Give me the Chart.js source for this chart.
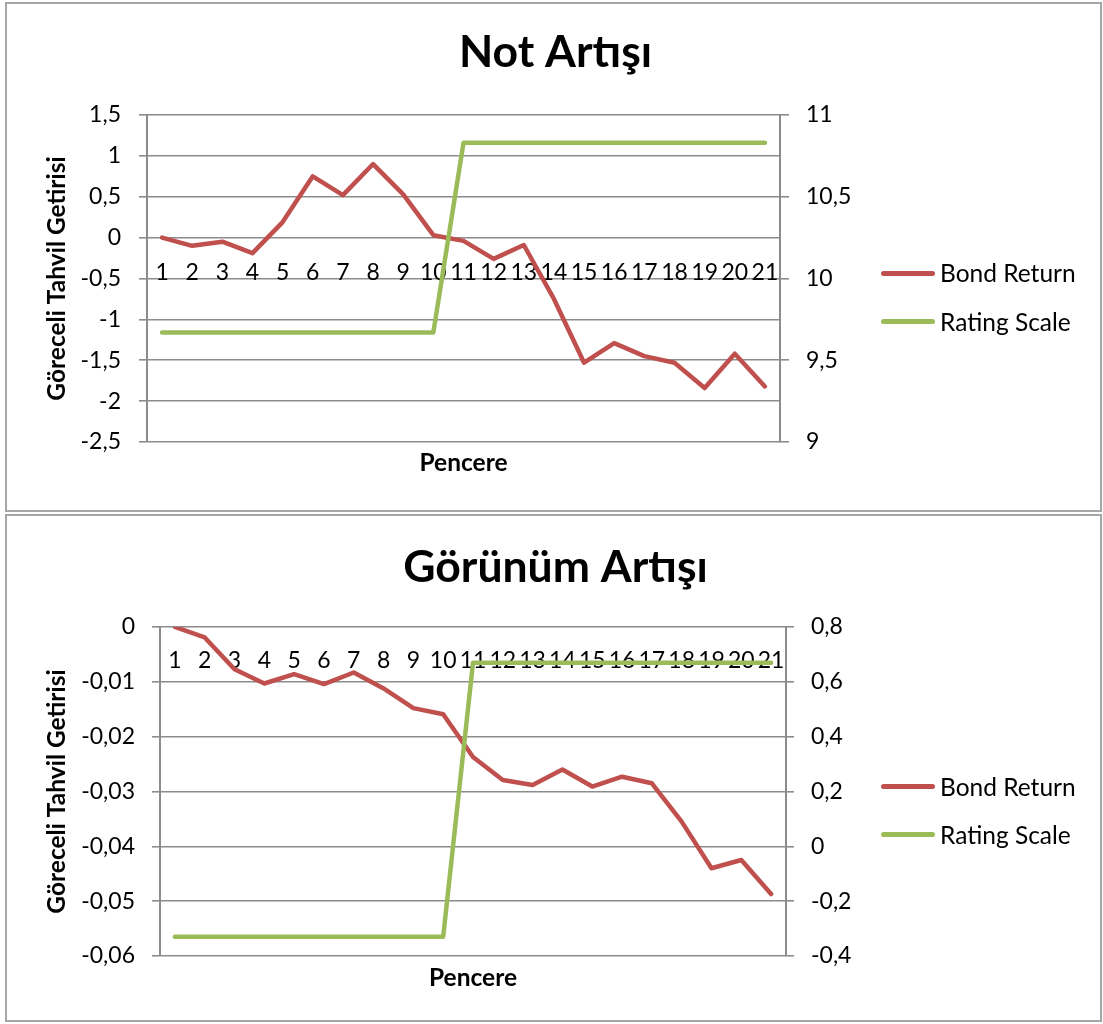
<!DOCTYPE html>
<html>
<head>
<meta charset="utf-8">
<title>Not Artışı / Görünüm Artışı</title>
<script src="https://cdn.jsdelivr.net/npm/chart.js@4.4.1/dist/chart.umd.min.js"></script>
<style>
  html, body { margin: 0; padding: 0; background: #fff; }
  body { width: 1103px; height: 1024px; position: relative; overflow: hidden; font-family: Lato, sans-serif; }
  .frame { position: absolute; left: 5px; width: 1093px; border: 2px solid #a6a6a6; }
  canvas { position: absolute; left: 0; }
  .legend-item { position: absolute; left: 881px; height: 0; white-space: nowrap; }
  .legend-item .swatch { position: absolute; left: 0; top: -2.5px; width: 54px; height: 5px; border-radius: 3px; }
  .legend-item .text { position: absolute; left: 59px; top: -15px; line-height: 30px; font: 24.5px Lato, sans-serif; color: #000; }
</style>
</head>
<body>
<div class="frame" style="top:2px;height:506px;"></div>
<div class="frame" style="top:514px;height:504px;"></div>
<canvas id="notChart" width="1103" height="512" style="top:0;"></canvas>
<canvas id="gorunumChart" width="1103" height="512" style="top:512px;"></canvas>
<div id="notLegend"></div>
<div id="gorunumLegend"></div>

<script>
// Window numbers along the category axis
const windows = ['1', '2', '3', '4', '5', '6', '7', '8', '9', '10', '11',
                 '12', '13', '14', '15', '16', '17', '18', '19', '20', '21'];

// "Not Artışı" (rating upgrade)
const notBondReturn = [0.00, -0.10, -0.05, -0.19, 0.19, 0.75, 0.52, 0.90, 0.53, 0.03, -0.04,
                       -0.26, -0.09, -0.75, -1.53, -1.29, -1.45, -1.53, -1.84, -1.42, -1.82];
const notRatingScale = [9.67, 9.67, 9.67, 9.67, 9.67, 9.67, 9.67, 9.67, 9.67, 9.67, 10.83,
                        10.83, 10.83, 10.83, 10.83, 10.83, 10.83, 10.83, 10.83, 10.83, 10.83];

// "Görünüm Artışı" (outlook upgrade)
const gorunumBondReturn = [0.0000, -0.0019, -0.0077, -0.0103, -0.0086, -0.0104, -0.0083, -0.0112, -0.0148, -0.0159, -0.0237,
                           -0.0279, -0.0288, -0.0260, -0.0291, -0.0273, -0.0285, -0.0355, -0.0440, -0.0425, -0.0487];
const gorunumRatingScale = [-0.33, -0.33, -0.33, -0.33, -0.33, -0.33, -0.33, -0.33, -0.33, -0.33, 0.67,
                            0.67, 0.67, 0.67, 0.67, 0.67, 0.67, 0.67, 0.67, 0.67, 0.67];

// Axis ranges
const notLeftAxis = { min: -2.5, max: 1.5, step: 0.5 };
const notRightAxis = { min: 9, max: 11, step: 0.5 };
const gorunumLeftAxis = { min: -0.06, max: 0, step: 0.01 };
const gorunumRightAxis = { min: -0.4, max: 0.8, step: 0.2 };

const seriesNames = ['Bond Return', 'Rating Scale'];
const yTitle = 'Göreceli Tahvil Getirisi';
const xTitle = 'Pencere';

const COLORS = { bond: '#C0504D', rating: '#9BBB59', grid: '#8c8c8c', text: '#000000' };
const FONT = 'Lato';
const TITLE_SIZE = 44.5;
const AXIS_TITLE_SIZE = 24.5;
const TICK_SIZE = 23;
const CAT_SIZE = 23;

// Decimal comma, as in Turkish number formatting
const commaFormat = v => String(Math.round(v * 1e6) / 1e6).replace('.', ',');

function buildChart(canvasId, legendId, opt) {
  const canvas = document.getElementById(canvasId);
  const W = canvas.width, H = canvas.height;
  const titleHalf = TITLE_SIZE * 1.2 / 2;
  const axisTitleHalf = AXIS_TITLE_SIZE * 1.2 / 2;
  const catHalf = CAT_SIZE * 1.2 / 2;

  const chart = new Chart(canvas, {
    type: 'line',
    data: {
      labels: windows,
      datasets: [
        { label: seriesNames[0], data: opt.bond, borderColor: COLORS.bond, backgroundColor: COLORS.bond,
          borderWidth: 4.5, yAxisID: 'y', order: 1 },
        { label: seriesNames[1], data: opt.rating, borderColor: COLORS.rating, backgroundColor: COLORS.rating,
          borderWidth: 4.5, yAxisID: 'y1', order: 0 }
      ]
    },
    options: {
      responsive: false,
      animation: false,
      devicePixelRatio: 1,
      layout: { padding: { left: 8, right: 0, top: 0, bottom: 0 } },
      elements: {
        point: { radius: 0, hoverRadius: 0 },
        line: { tension: 0, borderCapStyle: 'round', borderJoinStyle: 'round', fill: false }
      },
      plugins: {
        legend: { display: false },
        tooltip: { enabled: false },
        title: {
          display: true,
          text: opt.title,
          color: COLORS.text,
          font: { family: FONT, size: TITLE_SIZE, weight: 'bold', lineHeight: 1.2 },
          padding: { top: opt.titleCenter - titleHalf, bottom: opt.area.top - opt.titleCenter - titleHalf }
        }
      },
      scales: {
        x: {
          axis: 'x',
          type: 'category',
          offset: true,
          position: { y: opt.xAxisAt },
          grid: { display: false, drawTicks: false },
          border: { display: false },
          ticks: {
            color: COLORS.text,
            font: { family: FONT, size: CAT_SIZE },
            padding: opt.xTickShift - catHalf,
            maxRotation: 0,
            autoSkip: false
          }
        },
        xt: {
          axis: 'x',
          type: 'category',
          offset: true,
          position: 'bottom',
          grid: { display: false, drawTicks: false },
          border: { display: false },
          ticks: { display: false },
          title: {
            display: true,
            text: xTitle,
            color: COLORS.text,
            font: { family: FONT, size: AXIS_TITLE_SIZE, weight: 'bold', lineHeight: 1.2 },
            padding: { top: 0, bottom: H - opt.xTitleCenter - axisTitleHalf }
          },
          afterFit: s => { s.height = H - opt.area.bottom; }
        },
        y: {
          position: 'left',
          min: opt.left.min,
          max: opt.left.max,
          ticks: {
            stepSize: opt.left.step,
            callback: commaFormat,
            color: COLORS.text,
            font: { family: FONT, size: TICK_SIZE },
            padding: opt.leftPad
          },
          grid: { color: COLORS.grid, lineWidth: 1.6, tickLength: 8 },
          border: { color: COLORS.grid, width: 2 },
          title: {
            display: true,
            text: yTitle,
            color: COLORS.text,
            font: { family: FONT, size: AXIS_TITLE_SIZE, weight: 'bold', lineHeight: 1.2 },
            padding: { top: 57 - 8 - axisTitleHalf, bottom: 0 }
          },
          afterFit: s => { s.width = opt.area.left - 8; }
        },
        y1: {
          position: 'right',
          min: opt.right.min,
          max: opt.right.max,
          ticks: {
            stepSize: opt.right.step,
            callback: commaFormat,
            color: COLORS.text,
            font: { family: FONT, size: TICK_SIZE },
            padding: opt.rightPad
          },
          grid: { drawOnChartArea: false, color: COLORS.grid, lineWidth: 1.6, tickLength: opt.rightTick },
          border: { color: COLORS.grid, width: 2 },
          afterFit: s => { s.width = W - opt.area.right; }
        }
      }
    }
  });

  // Legend rows built from the chart's own dataset styling
  const host = document.getElementById(legendId);
  chart.data.datasets.forEach((ds, i) => {
    const row = document.createElement('div');
    row.className = 'legend-item';
    row.style.top = opt.legendY[i] + 'px';
    const sw = document.createElement('div');
    sw.className = 'swatch';
    sw.style.background = ds.borderColor;
    const tx = document.createElement('div');
    tx.className = 'text';
    tx.textContent = ds.label;
    row.appendChild(sw);
    row.appendChild(tx);
    host.appendChild(row);
  });
  return chart;
}

buildChart('notChart', 'notLegend', {
  title: 'Not Artışı',
  bond: notBondReturn,
  rating: notRatingScale,
  left: notLeftAxis,
  right: notRightAxis,
  area: { left: 147, right: 780, top: 115, bottom: 442 },
  titleCenter: 53,
  xTitleCenter: 463,
  xAxisAt: -0.5,
  xTickShift: -6,
  leftPad: 18,
  rightPad: 17,
  rightTick: 9,
  legendY: [273, 321.5]
});

buildChart('gorunumChart', 'gorunumLegend', {
  title: 'Görünüm Artışı',
  bond: gorunumBondReturn,
  rating: gorunumRatingScale,
  left: gorunumLeftAxis,
  right: gorunumRightAxis,
  area: { left: 160, right: 786, top: 115, bottom: 444 },
  titleCenter: 56,
  xTitleCenter: 466,
  xAxisAt: 0,
  xTickShift: 33.7,
  leftPad: 17,
  rightPad: 17,
  rightTick: 8,
  legendY: [786.5, 834.5]
});
</script>
</body>
</html>
